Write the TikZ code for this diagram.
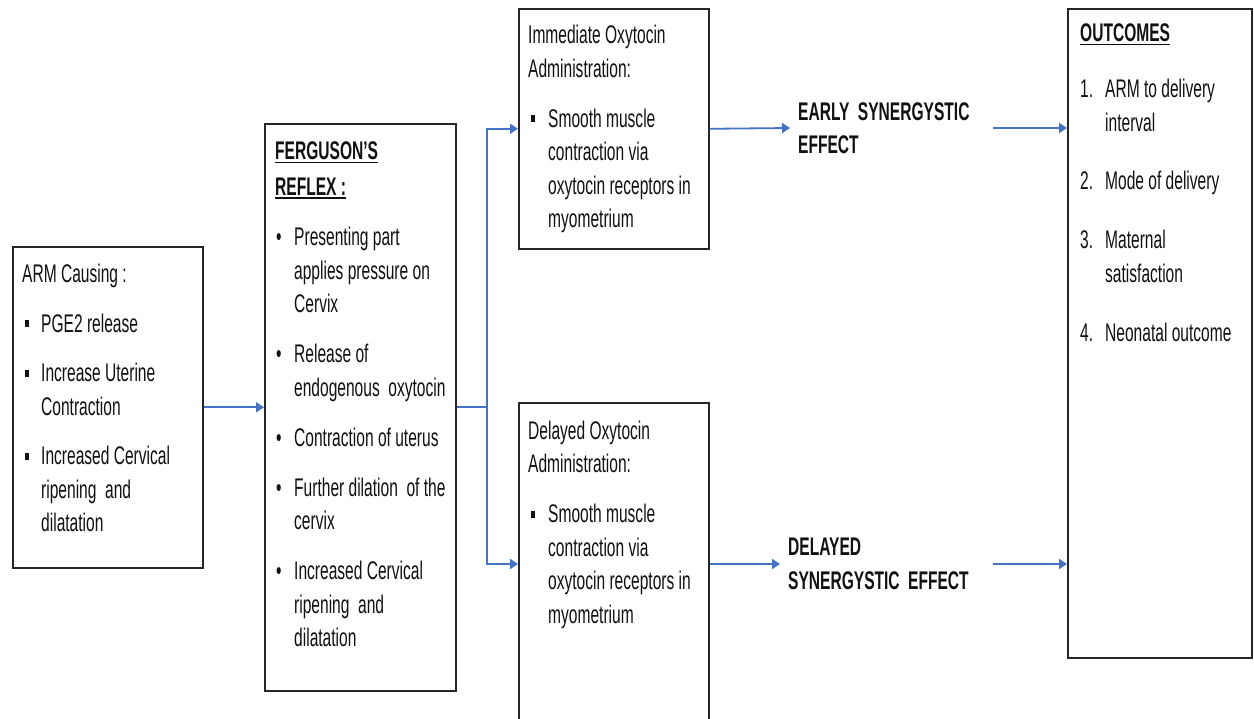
\documentclass[tikz,border=0pt]{standalone}
\usepackage{fontspec}
\setmainfont{Liberation Sans}[FakeStretch=0.61]
\usetikzlibrary{arrows.meta}
\definecolor{arrowblue}{HTML}{4472C4}
\definecolor{boxline}{HTML}{262626}
\definecolor{txt}{HTML}{111111}
\newcommand{\sqb}{\hspace{2.5pt}\rule[5pt]{4.5pt}{7pt}}
\newcommand{\rdb}{\hspace{1pt}\textbullet}
\newcommand{\myul}[1]{\setbox0\hbox{#1}\rlap{\rule[-3.5pt]{\wd0}{1.8pt}}\box0}
\tikzset{
  box/.style={draw=boxline, line width=1.6pt, inner sep=0pt, anchor=north west},
  txtblock/.style={anchor=base west, inner sep=0pt, text=txt, font=\fontsize{25.5}{33.5}\selectfont},
  efflabel/.style={anchor=west, inner xsep=8pt, inner ysep=0pt, align=left, text=txt,
    font=\fontsize{25.5}{33.5}\selectfont\bfseries},
  arr/.style={draw=arrowblue, line width=1.8pt, -{Triangle[length=8pt,width=10pt]}},
  bline/.style={draw=arrowblue, line width=1.8pt}
}
\begin{document}
\begin{tikzpicture}[x=1pt,y=-1pt]
\fill[white] (0,0) rectangle (1254,719);
\clip (0,0) rectangle (1254,719);

% boxes
\node[box, minimum width=190pt, minimum height=321pt] (A) at (12,246) {};
\node[box, minimum width=191pt, minimum height=567pt] (B) at (264,123) {};
\node[box, minimum width=190pt, minimum height=240pt] (C) at (518,8) {};
\node[box, minimum width=190pt, minimum height=340pt] (D) at (518,402) {};
\node[box, minimum width=184pt, minimum height=649pt] (E) at (1067,8) {};

% texts
\node[txtblock] (At) at (22,283) {\begin{tabular}[t]{@{}p{19pt}@{}l@{}}
\multicolumn{2}{@{}l@{}}{ARM Causing :}\\[16pt]
\sqb & PGE2 release\\[16pt]
\sqb & Increase Uterine\\
 & Contraction\\[16pt]
\sqb & Increased Cervical\\
 & ripening\ \ and\\
 & dilatation
\end{tabular}};

\node[txtblock] (Bt) at (275,160) {\begin{tabular}[t]{@{}p{19pt}@{}l@{}}
\multicolumn{2}{@{}l@{}}{\bfseries\myul{FERGUSON’S}}\\[2pt]
\multicolumn{2}{@{}l@{}}{\bfseries\myul{REFLEX :}}\\[17pt]
\rdb & Presenting part\\
 & applies pressure on\\
 & Cervix\\[16.5pt]
\rdb & Release of\\
 & endogenous\ \ oxytocin\\[16.5pt]
\rdb & Contraction of uterus\\[16.5pt]
\rdb & Further dilation\ \ of the\\
 & cervix\\[16.5pt]
\rdb & Increased Cervical\\
 & ripening\ \ and\\
 & dilatation
\end{tabular}};

\node[txtblock] (Ct) at (528,44) {\begin{tabular}[t]{@{}p{20pt}@{}l@{}}
\multicolumn{2}{@{}l@{}}{Immediate Oxytocin}\\
\multicolumn{2}{@{}l@{}}{Administration:}\\[16.5pt]
\sqb & Smooth muscle\\
 & contraction via\\
 & oxytocin receptors in\\
 & myometrium
\end{tabular}};

\node[txtblock] (Dt) at (528,439) {\begin{tabular}[t]{@{}p{20pt}@{}l@{}}
\multicolumn{2}{@{}l@{}}{Delayed Oxytocin}\\
\multicolumn{2}{@{}l@{}}{Administration:}\\[16.5pt]
\sqb & Smooth muscle\\
 & contraction via\\
 & oxytocin receptors in\\
 & myometrium
\end{tabular}};

\node[txtblock] (Et) at (1080,42) {\begin{tabular}[t]{@{}p{25pt}@{}l@{}}
\multicolumn{2}{@{}l@{}}{\bfseries\myul{OUTCOMES}}\\[22.5pt]
1. & ARM to delivery\\
 & interval\\[25pt]
2. & Mode of delivery\\[25.5pt]
3. & Maternal\\
 & satisfaction\\[26pt]
4. & Neonatal outcome
\end{tabular}};

% effect labels
\node[efflabel, text width=187pt] (early) at (790,128) {EARLY SYNERGYSTIC\\EFFECT};
\node[efflabel, text width=197pt] (delayed) at (780,564) {DELAYED\\SYNERGYSTIC EFFECT};

% connectors
\coordinate (dIn) at (518,564);
\draw[arr] (A.east) -- (B.west);
\draw[bline] (B.east) -- ++(30,0) coordinate (j);
\draw[arr] (j) |- (C.west);
\draw[arr] (j) |- (dIn);
\draw[arr] (C.east) -- (early.west);
\draw[arr] (dIn -| D.east) -- (delayed.west);
\draw[arr] (early.east) -- (early.east -| E.west);
\draw[arr] (delayed.east) -- (delayed.east -| E.west);
\end{tikzpicture}
\end{document}
